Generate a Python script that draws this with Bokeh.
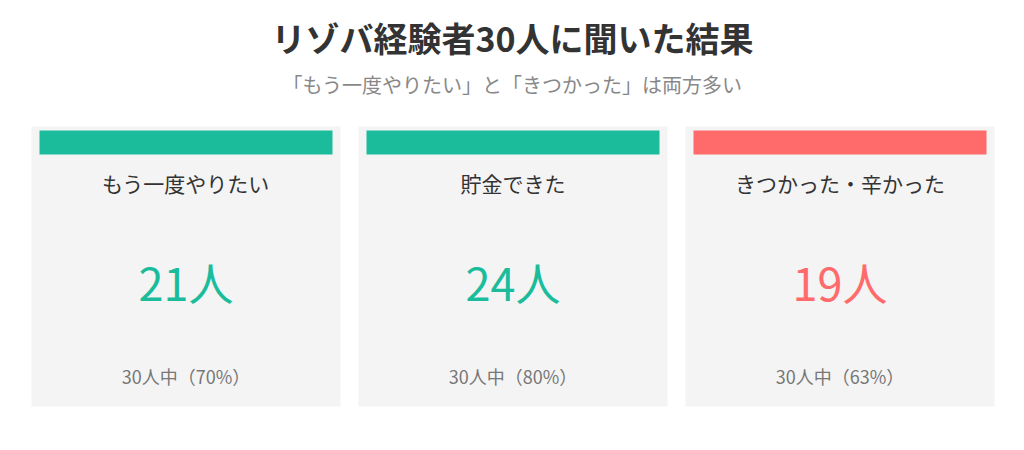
from bokeh.core.properties import value
from bokeh.embed import file_html
from bokeh.models import ColumnDataSource, Range1d
from bokeh.plotting import figure
from bokeh.resources import INLINE

title = "リゾバ経験者30人に聞いた結果"
subtitle = "「もう一度やりたい」と「きつかった」は両方多い"

labels = ["もう一度やりたい", "貯金できた", "きつかった・辛かった"]
counts = [21, 24, 19]
total = 30
colors = ["#1abc9c", "#1abc9c", "#ff6b6b"]

W, H = 1008, 434
FONT = "Noto Sans CJK JP"

# card geometry (px, top-down)
card_w, gap, left0 = 309, 18, 31
card_top, card_bot = 126, 406

lefts = [left0 + i * (card_w + gap) for i in range(len(labels))]
centers = [l + card_w / 2 for l in lefts]

src = ColumnDataSource(dict(
    left=lefts,
    right=[l + card_w for l in lefts],
    bar_left=[l + 8 for l in lefts],
    bar_right=[l + card_w - 8 for l in lefts],
    cx=centers,
    label=labels,
    num=[f"{c}人" for c in counts],
    sub=[f"{total}人中（{round(c / total * 100)}%）" for c in counts],
    color=colors,
))

p = figure(width=W, height=H, output_backend="svg", toolbar_location=None,
           x_range=Range1d(0, W), y_range=Range1d(H, 0),
           min_border=0, outline_line_color=None)
p.axis.visible = False
p.grid.visible = False

p.quad(left="left", right="right", top=card_top, bottom=card_bot,
       fill_color="#f4f4f4", line_color=None, source=src)
p.quad(left="bar_left", right="bar_right", top=card_top + 4, bottom=card_top + 28,
       fill_color="color", line_color=None, source=src)

p.text(x="cx", y=182, text="label", source=src, text_font=value(FONT),
       text_font_size="21px", text_color="#333333",
       text_align="center", text_baseline="middle")
p.text(x="cx", y=281, text="num", source=src, text_font=value(FONT),
       text_font_size="45px", text_color="color",
       text_align="center", text_baseline="middle")
p.text(x="cx", y=375, text="sub", source=src, text_font=value(FONT),
       text_font_size="18px", text_color="#777777",
       text_align="center", text_baseline="middle")

p.text(x=[512], y=[37], text=[title], text_font=value(FONT),
       text_font_size="34px", text_font_style="bold", text_color="#333333",
       text_align="center", text_baseline="middle")
p.text(x=[512], y=[84], text=[subtitle], text_font=value(FONT),
       text_font_size="20px", text_color="#888888",
       text_align="center", text_baseline="middle")

open("out.html", "w").write(file_html(p, INLINE))
